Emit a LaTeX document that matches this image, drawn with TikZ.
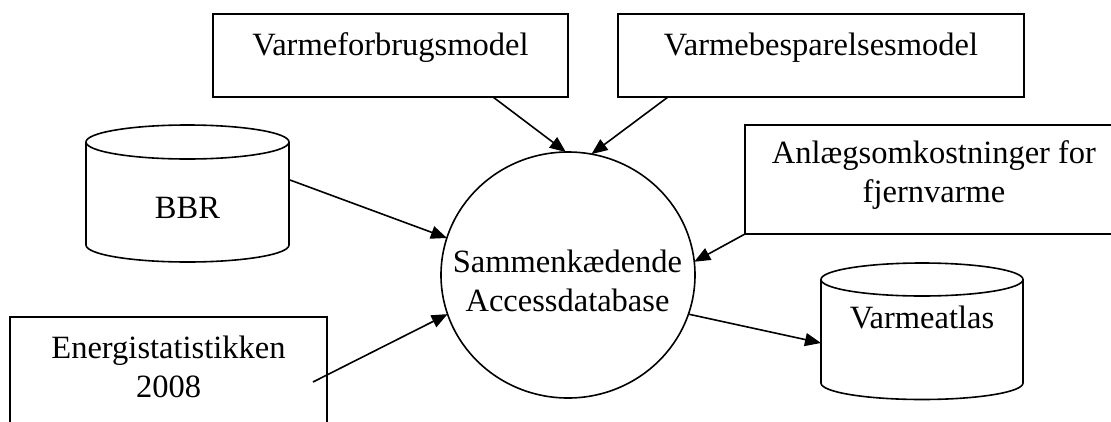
\documentclass[tikz,border=0pt]{standalone}
\usepackage{fontspec}
\setmainfont{Liberation Serif}
\usetikzlibrary{arrows.meta,shapes.geometric}
\begin{document}
\begin{tikzpicture}[x=1pt,y=-1pt,
  every node/.style={inner sep=0pt, outer sep=0pt},
  box/.style={draw, line width=1.6pt, rectangle},
  txt/.style={font=\fontsize{32.5}{38.5}\selectfont, align=center, anchor=base},
  conn/.style={line width=1.6pt, -{Triangle[length=16pt,width=13pt]}},
  cyl/.style={line width=1.6pt}]
\useasboundingbox (0,0) rectangle (1111,421);
\clip (0,0) rectangle (1111,421);
% boxes
\node[box, minimum width=355pt, minimum height=83pt] (vf) at (390.5,55.5) {};
\node[box, minimum width=406pt, minimum height=83pt] (vb) at (821,55.5) {};
\node[box, minimum width=378pt, minimum height=109pt] (an) at (934,179.5) {};
\node[box, minimum width=317pt, minimum height=140pt] (en) at (168.5,387) {};
\node[txt] (vft) at (390.5,55) {Varmeforbrugsmodel};
\node[txt] (vbt) at (821,55) {Varmebesparelsesmodel};
\node[txt] (ant) at (934,202) {Anlægsomkostninger for\\fjernvarme};
\node[txt] (ent) at (168.5,397) {Energistatistikken\\2008};
% central ellipse
\node[draw, ellipse, line width=1.6pt, minimum width=254pt, minimum height=246pt] (db) at (568,275) {};
\node[txt] (dbt) at (567.5,311) {Sammenkædende\\Accessdatabase};
% BBR cylinder
\draw[cyl] (187.5,142) ellipse [x radius=101.5pt, y radius=17pt];
\draw[cyl] (86,142) -- (86,245) arc[start angle=180, end angle=360, x radius=101.5pt, y radius=17pt] -- (289,142);
\node[txt] (bbr) at (187.5,218) {BBR};
% Varmeatlas cylinder
\draw[cyl] (922,279.5) ellipse [x radius=101pt, y radius=16.5pt];
\draw[cyl] (821,279.5) -- (821,383) arc[start angle=180, end angle=360, x radius=101pt, y radius=16.5pt] -- (1023,279.5);
\node[txt] (va) at (922,328) {Varmeatlas};
% connector ends
\coordinate (bbrOut) at (290,180);
\coordinate (enOut) at (313,382);
\coordinate (vaIn) at (821,343);
% connectors
\draw[conn] ([xshift=102.5pt]vf.south) -- (db.91);
\draw[conn] ([xshift=-153pt]vb.south) -- (db.79);
\draw[conn] (an.south west) -- (db.6);
\draw[conn] (bbrOut) -- (db.163);
\draw[conn] (enOut) -- (db.198);
\draw[conn] (db.342) -- (vaIn);
\end{tikzpicture}
\end{document}
